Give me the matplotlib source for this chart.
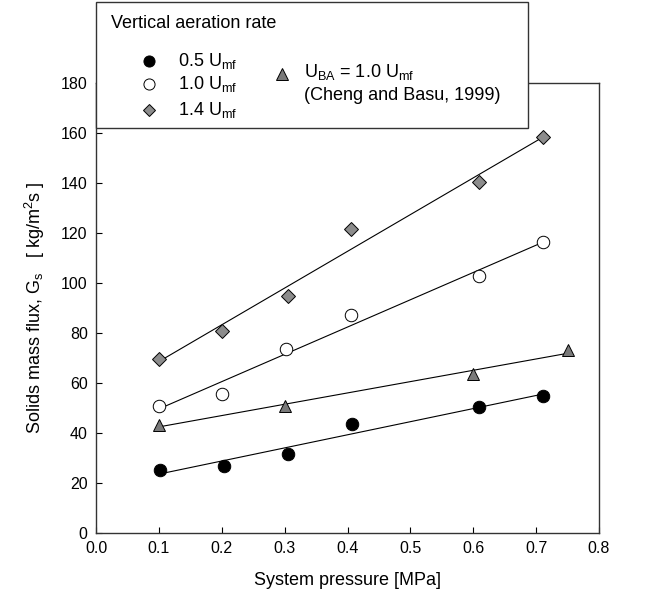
import matplotlib
matplotlib.use('Agg')
from matplotlib import pyplot as plt
from matplotlib.patches import Rectangle
from matplotlib.lines import Line2D
import numpy as np

plt.rcParams['font.family'] = ['Liberation Sans', 'DejaVu Sans']
plt.rcParams['mathtext.fontset'] = 'custom'
plt.rcParams['mathtext.rm'] = 'Liberation Sans'
plt.rcParams['mathtext.it'] = 'Liberation Sans:italic'

# data
p_05 = [0.102, 0.203, 0.305, 0.407, 0.609, 0.711]
gs_05 = [25.2, 26.9, 31.6, 43.6, 50.3, 54.8]
p_10 = [0.1, 0.2, 0.302, 0.405, 0.609, 0.711]
gs_10 = [50.8, 55.5, 73.6, 87.2, 102.9, 116.3]
p_14 = [0.1, 0.2, 0.305, 0.405, 0.609, 0.711]
gs_14 = [69.6, 80.7, 94.9, 121.7, 140.4, 158.4]
p_cb = [0.1, 0.3, 0.6, 0.75]
gs_cb = [43.2, 50.9, 63.6, 73.2]

xticks = np.arange(0, 0.81, 0.1)
yticks = np.arange(0, 181, 20)

W, H = 661, 590
fig = plt.figure(figsize=(W / 100, H / 100), dpi=100)
ax = fig.add_axes([96 / W, 1 - 533 / H, (599 - 96) / W, (533 - 83) / H])


def fit_line(x, y):
	x = np.array(x)
	k, b = np.polyfit(x, y, 1)
	xx = np.array([x.min(), x.max()])
	return xx, k * xx + b


series = [
	(p_05, gs_05, 'o', 'black'),
	(p_10, gs_10, 'o', 'white'),
	(p_14, gs_14, 'D', '#8c8c8c'),
	(p_cb, gs_cb, '^', '#7a7a7a'),
]
for x, y, m, c in series:
	xx, yy = fit_line(x, y)
	ax.plot(xx, yy, color='black', lw=0.8, zorder=2)
	ms = 7 if m == 'D' else 9
	ax.plot(x, y, ls='none', marker=m, ms=ms, mfc=c, mec='black', mew=0.7, zorder=3)

ax.set_xlim(0, 0.8)
ax.set_ylim(0, 180)
ax.set_xticks(xticks)
ax.set_xticklabels([f'{v:.1f}' for v in xticks])
ax.set_yticks(yticks)
ax.set_yticklabels([f'{v:d}' for v in yticks])
ax.tick_params(direction='in', length=4, width=0.8, labelsize=11.5, pad=6)
for s in ax.spines.values():
	s.set_linewidth(1.0)
	s.set_color('#333333')

ax.set_xlabel('System pressure [MPa]', fontsize=13, labelpad=11)
ax.set_ylabel(r'Solids mass flux, G$_{\mathrm{s}}$   [ kg/m$^{2}$s ]', fontsize=13, labelpad=10)

# legend box drawn by hand
def fx(px):
	return px / W

def fy(py):
	return 1 - py / H

fig.add_artist(Rectangle((fx(96), fy(128)), fx(528) - fx(96), fy(2) - fy(128),
	transform=fig.transFigure, facecolor='white', edgecolor='#333333', lw=1.0, zorder=5))
fig.text(fx(111), fy(23), 'Vertical aeration rate', fontsize=13, va='center', zorder=6)

leg = [
	(61, 'o', 'black', '0.5'),
	(84, 'o', 'white', '1.0'),
	(110, 'D', '#8c8c8c', '1.4'),
]
for py, m, c, lab in leg:
	ms = 6.5 if m == 'D' else 8
	fig.add_artist(Line2D([fx(149)], [fy(py)], marker=m, ms=ms, mfc=c, mec='black', mew=0.7,
		ls='none', transform=fig.transFigure, zorder=6))
	fig.text(fx(178), fy(py), lab + r' U$_{\mathrm{mf}}$', fontsize=13, va='center', zorder=6)

fig.add_artist(Line2D([fx(282)], [fy(74)], marker='^', ms=8, mfc='#7a7a7a', mec='black', mew=0.7,
	ls='none', transform=fig.transFigure, zorder=6))
fig.text(fx(304), fy(72), r'U$_{\mathrm{BA}}$ = 1.0 U$_{\mathrm{mf}}$', fontsize=13, va='center', zorder=6)
fig.text(fx(304), fy(96), '(Cheng and Basu, 1999)', fontsize=13, va='center', zorder=6)

fig.savefig('out.png', dpi=100)
